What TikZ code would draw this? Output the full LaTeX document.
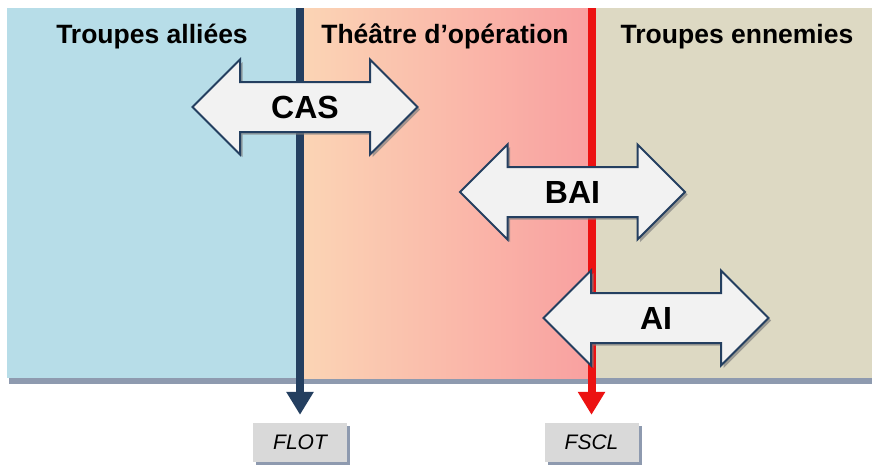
\documentclass[tikz,border=0pt]{standalone}
\usepackage{fontspec}
\setmainfont{Liberation Sans}
\usepackage{tikz}
\usetikzlibrary{arrows.meta}
\usetikzlibrary{shapes.arrows}
\usetikzlibrary{shadows}
\definecolor{allies}{HTML}{B7DDE8}
\definecolor{peach}{HTML}{FBD5B5}
\definecolor{rose}{HTML}{F9A0A0}
\definecolor{ennemis}{HTML}{DDD9C3}
\definecolor{navy}{HTML}{243F60}
\definecolor{rouge}{HTML}{EC1212}
\definecolor{ombre}{HTML}{8E9AAF}
\tikzset{
	zone/.style={font=\fontsize{26.5}{31}\selectfont\bfseries, anchor=base},
	portee/.style={shape=double arrow, double arrow tip angle=90, double arrow head extend=22.5pt,
		minimum height=225pt, inner xsep=0pt, inner ysep=12.5pt, text height=23pt, text depth=0pt,
		draw=navy, line width=2pt, fill=black!5, font=\fontsize{32}{36}\selectfont\bfseries,
		drop shadow={shadow xshift=2.5pt, shadow yshift=-2.5pt, fill=black!50, opacity=.7}},
	ligne/.style={fill=black!15, minimum width=94pt, minimum height=39pt, draw=none,
		font=\fontsize{21}{25}\selectfont\itshape,
		drop shadow={shadow xshift=3pt, shadow yshift=-3pt, fill=ombre, opacity=1}},
	limite/.style={line width=8pt, draw=#1, -{Triangle[width=26pt,length=23pt]}, shorten >=8pt}
}
\begin{document}
\begin{tikzpicture}[x=1pt, y=-1pt]
				\useasboundingbox[fill=white] (0,0) rectangle (872,466);
				\fill[ombre] (9,378) rectangle (872,384);
				\fill[allies] (7,8) rectangle (300,378);
				\shade[left color=peach, right color=rose] (300,8) rectangle (591,378);
				\fill[ennemis] (591,8) rectangle (872,378);
				\node[zone] (ta) at (152,43) {Troupes alliées};
				\node[zone] (to) at (445,43) {Théâtre d’opération};
				\node[zone] (te) at (737,43) {Troupes ennemies};
				\node[ligne] (flot) at (300,442.5) {FLOT};
				\node[ligne] (fscl) at (591.5,442.5) {FSCL};
				\coordinate (flothaut) at (300,8);
				\coordinate (fsclhaut) at (591.5,8);
				\draw[limite=navy] (flothaut) -- (flot.north);
				\draw[limite=rouge] (fsclhaut) -- (fscl.north);
				\node[portee] (cas) at (305,107) {CAS};
				\node[portee] (bai) at (572.5,192) {BAI};
				\node[portee] (ai) at (656,318) {AI};
			\end{tikzpicture}
\end{document}
